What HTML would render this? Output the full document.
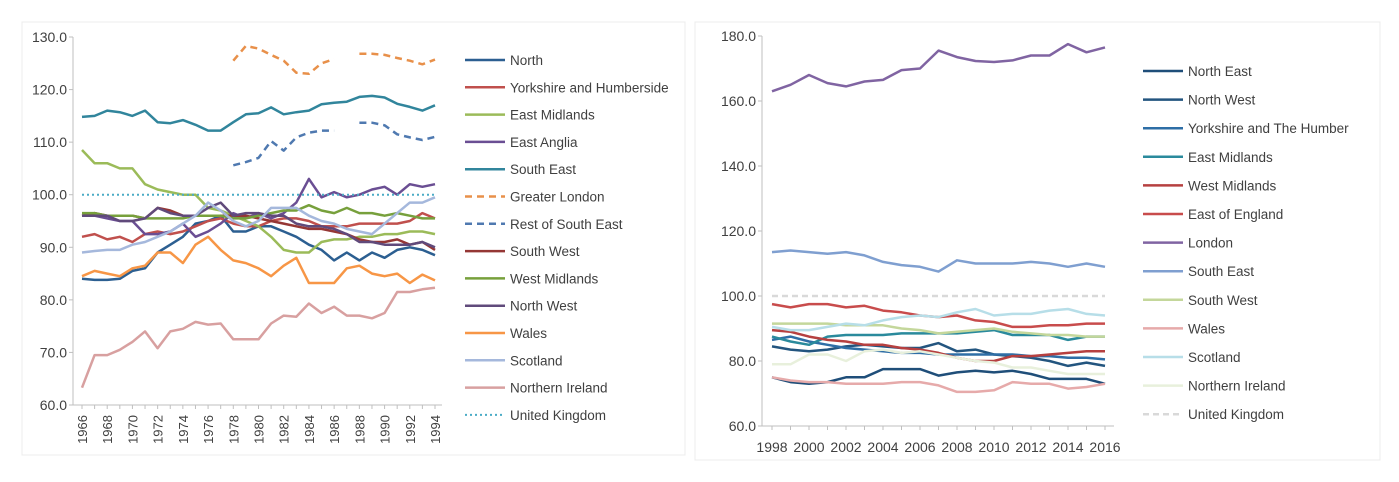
<!DOCTYPE html>
<html><head><meta charset="utf-8">
<style>
body{margin:0;background:#fff;width:1399px;height:482px;overflow:hidden;font-family:"Liberation Sans",sans-serif;}
svg{position:absolute;left:0;top:0}
text{font-family:"Liberation Sans",sans-serif;fill:#404040}
</style></head><body>
<svg id="c" width="1399" height="482">
<rect x="22" y="22" width="663" height="433" fill="#fff" stroke="#ececec"/>
<rect x="695" y="22" width="685" height="438" fill="#fff" stroke="#ececec"/>
</svg>
<script>
// ---- Left chart data ----
const leftYears=[1966,1967,1968,1969,1970,1971,1972,1973,1974,1975,1976,1977,1978,1979,1980,1981,1982,1983,1984,1985,1986,1987,1988,1989,1990,1991,1992,1993,1994];
const leftNames=["North","Yorkshire and Humberside","East Midlands","East Anglia","South East","Greater London","Rest of South East","South West","West Midlands","North West","Wales","Scotland","Northern Ireland","United Kingdom"];
const N=null;
const lNorth=[84,83.8,83.8,84,85.5,86,89,90.5,92,94.5,95,96,93,93,94,94,93,92,90.5,89.5,87.5,89,87.5,89,88,89.5,90,89.5,88.5];
const lYorks=[92,92.5,91.5,92,91,92.5,93,92.5,93,94,95,95.5,94.5,94,94,95,95.5,95.5,95,94,94,94,94.5,94.5,94.5,94.5,95,96.5,95.5];
const lEMid=[108.5,106,106,105,105,102,101,100.5,100,100,97.5,97,96,95,94,92,89.5,89,89,91,91.5,91.5,92,92,92.5,92.5,93,93,92.5];
const lEAng=[96,96,95.5,95,95,92.5,92.5,93,94.5,92,93,94.5,96.5,95.5,96.5,95.5,96.5,98.5,103,99.5,100.5,99.5,100,101,101.5,100,102,101.5,102];
const lSE=[114.8,115,116,115.7,115,116,113.8,113.6,114.2,113.3,112.2,112.2,113.8,115.3,115.5,116.6,115.3,115.7,116,117.2,117.5,117.7,118.6,118.8,118.5,117.3,116.7,116,117];
const lGL=[N,N,N,N,N,N,N,N,N,N,N,N,125.5,128.3,127.8,126.6,125.5,123.2,123,125,125.8,N,126.8,126.8,126.6,126,125.5,124.8,125.7];
const lRSE=[N,N,N,N,N,N,N,N,N,N,N,N,105.6,106.2,107,110.2,108.4,110.9,111.8,112.2,112.2,N,113.7,113.7,113.2,111.5,110.9,110.4,111];
const lSW=[96,96.5,96,96,96,95.5,97.5,97,96,96,96,96,96,96,95.5,95,94.5,94,93.5,93.5,93,92.5,91.5,91,91,91.5,90.5,91,89.5];
const lWMid=[96.5,96.5,96,96,96,95.5,95.5,95.5,95.5,96,96,96,95.5,95.5,96,96.5,97,97,98,97,96.5,97.5,96.5,96.5,96,96.5,96,95.5,95.5];
const lNW=[96,96,96,95,95,95.5,97.5,96.5,96,96,97.5,98.5,96,96.5,96.5,96,96,94.5,94,94,93.5,92.5,91,91,90.5,90.5,90.5,91,90];
const lWales=[84.5,85.5,85,84.5,86,86.5,89,89,87,90.5,92,89.5,87.5,87,86,84.5,86.5,88,83.2,83.2,83.2,86,86.5,85,84.5,85,83.2,84.8,83.7];
const lScot=[89,89.3,89.5,89.5,90.5,91,92,93,94.5,96,98.5,97,95,94,95,97.5,97.5,97.5,96,95,94.5,93.5,93,92.5,94.5,96.5,98.5,98.5,99.5];
const lNI=[63.3,69.5,69.5,70.5,72,74,70.8,74,74.5,75.8,75.3,75.5,72.5,72.5,72.5,75.5,77,76.8,79.3,77.5,78.7,77,77,76.5,77.5,81.5,81.5,82,82.3];
const lUK=leftYears.map(()=>100);
const leftTicks=[60,70,80,90,100,110,120,130];
// ---- Right chart data ----
const rightYears=[1998,1999,2000,2001,2002,2003,2004,2005,2006,2007,2008,2009,2010,2011,2012,2013,2014,2015,2016];
const rightNames=["North East","North West","Yorkshire and The Humber","East Midlands","West Midlands","East of England","London","South East","South West","Wales","Scotland","Northern Ireland","United Kingdom"];
const rNE=[75,73.5,73,73.5,75,75,77.5,77.5,77.5,75.5,76.5,77,76.5,77,76,74.5,74.5,74.5,73];
const rNW=[84.5,83.5,83,83.5,84.5,85,84.5,84,84,85.5,83,83.5,82,81.5,81,80,78.5,79.5,78.5];
const rYorks=[86.5,87.5,86,85,84,83.5,83,82.5,82.5,82,82,82,82,82,81.5,81.5,81,81,80.5];
const rEMid=[87.5,86,85,87.5,88,88,88,88.5,88.5,88.5,88.5,89,89.5,88,88,88,86.5,87.5,87.5];
const rWMid=[89.5,89,87.5,86.5,86,85,85,84,83.5,82.5,81,80,80,81.5,81.5,82,82.5,83,83];
const rEE=[97.5,96.5,97.5,97.5,96.5,97,95.5,95,94,93.5,94,92.5,92,90.5,90.5,91,91,91.5,91.5];
const rLon=[163,165,168,165.5,164.5,166,166.5,169.5,170,175.5,173.5,172.3,172,172.5,174,174,177.5,175,176.5];
const rSE=[113.5,114,113.5,113,113.5,112.5,110.5,109.5,109,107.5,111,110,110,110,110.5,110,109,110,109];
const rSW=[91.5,91.5,91.5,91.5,91,91,91,90,89.5,88.5,89,89.5,90,89,88.5,88,88,87.5,87.5];
const rWales=[75,74,73.5,73.5,73,73,73,73.5,73.5,72.5,70.5,70.5,71,73.5,73,73,71.5,72,73];
const rScot=[90.5,89.5,89.5,90.5,91.5,91,92.5,93.5,94,93.5,95,96,94,94.5,94.5,95.5,96,94.5,94];
const rNI=[79,79,82,82,80,83,83.5,82.5,83,82,81,80,79.5,78,78,77,76,76,76];
const rUK=rightYears.map(()=>100);
const rightTicks=[60,80,100,120,140,160,180];
const rightXLabels=[1998,2000,2002,2004,2006,2008,2010,2012,2014,2016];

const NS="http://www.w3.org/2000/svg";
const svg=document.getElementById('c');
function mk(tag,attrs,parent){const e=document.createElementNS(NS,tag);for(const k in attrs)e.setAttribute(k,attrs[k]);(parent||svg).appendChild(e);return e;}
function slug(s){return s.toLowerCase().replace(/[^a-z]+/g,'-');}

function lineChart(cfg){
  const xs=v=>cfg.x0+(v-cfg.years[0])*(cfg.x1-cfg.x0)/(cfg.years[cfg.years.length-1]-cfg.years[0]);
  const ys=v=>cfg.yTop+(cfg.yMax-v)*(cfg.yBot-cfg.yTop)/(cfg.yMax-cfg.yMin);
  const g=mk('g',{});
  
  
  const ax=mk('line',{x1:cfg.axX,y1:cfg.yTop,x2:cfg.axX,y2:cfg.yBot,stroke:'#bfbfbf'},g);
  
  
  const bx=mk('line',{x1:cfg.axX,y1:cfg.yBot,x2:cfg.axEnd,y2:cfg.yBot,stroke:'#bfbfbf'},g);
  
  
  cfg.ticks.forEach(t=>{
    const tl=mk('line',{x1:cfg.axX-4,y1:ys(t),x2:cfg.axX,y2:ys(t),stroke:'#bfbfbf'},g);
    
    
    const tx=mk('text',{x:cfg.axX-6,y:ys(t)+5,'text-anchor':'end','font-size':14},g);
    tx.textContent=t.toFixed(1);
    
    
  });
  cfg.years.forEach(yr=>{
    const tl=mk('line',{x1:xs(yr),y1:cfg.yBot,x2:xs(yr),y2:cfg.yBot+4,stroke:'#bfbfbf'},g);
    
    
  });
  cfg.xLabels.forEach(yr=>{
    let tx;
    if(cfg.rotate){
      tx=mk('text',{x:0,y:0,'text-anchor':'end','font-size':13,transform:`translate(${xs(yr)+5},${cfg.yBot+10}) rotate(-90)`},g);
    }else{
      tx=mk('text',{x:xs(yr),y:cfg.yBot+26,'text-anchor':'middle','font-size':14},g);
    }
    tx.textContent=yr;
    
    
  });
  cfg.series.forEach((s,i)=>{
    let d='',pen=false;
    s.data.forEach((v,j)=>{
      if(v===null){pen=false;return;}
      d+=(pen?'L':'M')+xs(cfg.years[j]).toFixed(1)+' '+ys(v).toFixed(1);pen=true;
    });
    const p=mk('path',{d:d,fill:'none',stroke:s.c,'stroke-width':s.w||2.5,'stroke-linejoin':'round'},g);
    if(s.dash)p.setAttribute('stroke-dasharray',s.dash);
    
    
    const ly=cfg.legY+i*cfg.legDy;
    const lg=mk('g',{},svg);
    
    
    const ll=mk('line',{x1:cfg.legX,y1:ly,x2:cfg.legX+40,y2:ly,stroke:s.c,'stroke-width':s.w||2.5},lg);
    if(s.dash)ll.setAttribute('stroke-dasharray',s.dash);
    const lt=mk('text',{x:cfg.legX+45,y:ly+5,'font-size':13.5},lg);
    lt.textContent=s.n;
  });
}
lineChart({id:'left',years:leftYears,x0:82,x1:435,axX:73,axEnd:442,yTop:37,yBot:405,yMin:60,yMax:130,ticks:leftTicks,
 xLabels:leftYears.filter(y=>y%2==0),rotate:true,legX:465,legY:60,legDy:27.3,
 series:[
  {n:leftNames[0],data:lNorth,c:'#2c5f91'},
  {n:leftNames[1],data:lYorks,c:'#c0504d'},
  {n:leftNames[2],data:lEMid,c:'#9bbb59'},
  {n:leftNames[3],data:lEAng,c:'#6a4e93'},
  {n:leftNames[4],data:lSE,c:'#31859c'},
  {n:leftNames[5],data:lGL,c:'#e8904a',dash:'7,5'},
  {n:leftNames[6],data:lRSE,c:'#4f79b0',dash:'7,5'},
  {n:leftNames[7],data:lSW,c:'#953735'},
  {n:leftNames[8],data:lWMid,c:'#77a03c'},
  {n:leftNames[9],data:lNW,c:'#604a7b'},
  {n:leftNames[10],data:lWales,c:'#f79646'},
  {n:leftNames[11],data:lScot,c:'#a5b8dc'},
  {n:leftNames[12],data:lNI,c:'#d8a0a0'},
  {n:leftNames[13],data:lUK,c:'#4bacc6',dash:'2,3',w:2}
 ]});
lineChart({id:'right',years:rightYears,x0:772,x1:1105,axX:762,axEnd:1114,yTop:36,yBot:426,yMin:60,yMax:180,ticks:rightTicks,
 xLabels:rightXLabels,rotate:false,legX:1143,legY:71,legDy:28.6,
 series:[
  {n:rightNames[0],data:rNE,c:'#1f4e79'},
  {n:rightNames[1],data:rNW,c:'#23557f'},
  {n:rightNames[2],data:rYorks,c:'#2e6ea6'},
  {n:rightNames[3],data:rEMid,c:'#2a8a9c'},
  {n:rightNames[4],data:rWMid,c:'#b64040'},
  {n:rightNames[5],data:rEE,c:'#c84c4c'},
  {n:rightNames[6],data:rLon,c:'#8064a2'},
  {n:rightNames[7],data:rSE,c:'#7f9fd0'},
  {n:rightNames[8],data:rSW,c:'#c4d79b'},
  {n:rightNames[9],data:rWales,c:'#e6aaaa'},
  {n:rightNames[10],data:rScot,c:'#b7dee8'},
  {n:rightNames[11],data:rNI,c:'#e8f0dc'},
  {n:rightNames[12],data:rUK,c:'#d9d9d9',dash:'6,4'}
 ]});
</script>
</body></html>
